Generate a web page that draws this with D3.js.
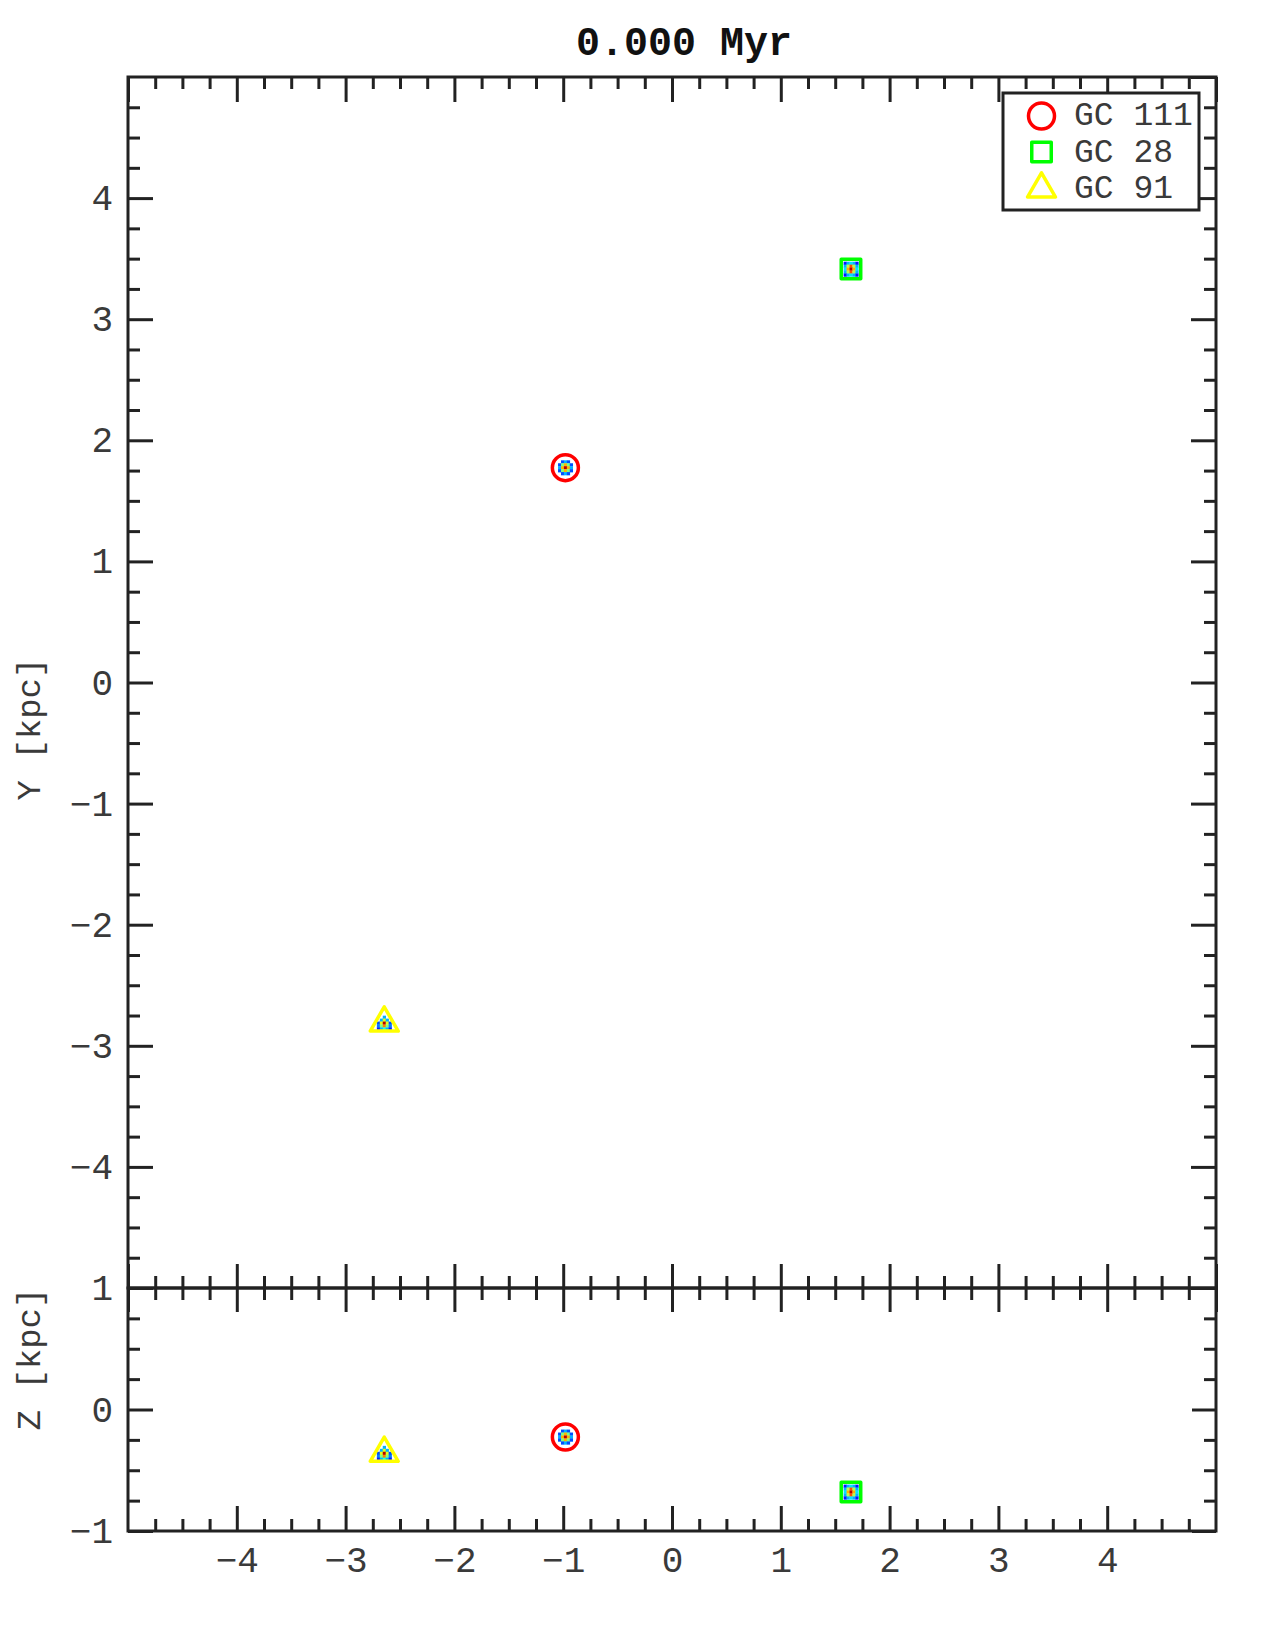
<!DOCTYPE html>
<html>
<head>
<meta charset="utf-8">
<script src="https://cdn.jsdelivr.net/npm/d3@7"></script>
<style>
  body { margin: 0; background: #fff; }
  svg { display: block; }
</style>
</head>
<body>
<script>
// cluster positions (kpc)
const clusters = ["GC 111", "GC 28", "GC 91"];
const xPos = [-0.98, 1.645, -2.645];
const yPos = [1.774, 3.414, -2.812];
const zPos = [-0.226, -0.679, -0.36];

// small density maps around each cluster (5x5, normalised)
const densGC111 = [
  [0, 0.2, 0.3, 0.2, 0],
  [0.2, 0.5, 0.7, 0.5, 0.2],
  [0.3, 0.7, 0.95, 0.7, 0.3],
  [0.2, 0.5, 0.7, 0.5, 0.2],
  [0, 0.2, 0.3, 0.2, 0]
];
const densGC28 = [
  [0.15, 0.3, 0.35, 0.3, 0.15],
  [0.3, 0.55, 0.8, 0.55, 0.3],
  [0.35, 0.7, 0.95, 0.7, 0.35],
  [0.3, 0.55, 0.8, 0.55, 0.3],
  [0.15, 0.3, 0.35, 0.3, 0.15]
];
const densGC91 = [
  [0, 0, 0.3, 0, 0],
  [0, 0.3, 0.6, 0.3, 0],
  [0.2, 0.6, 0.95, 0.6, 0.2],
  [0.25, 0.5, 0.75, 0.5, 0.25],
  [0.15, 0.3, 0.4, 0.3, 0.15]
];
const densities = [densGC111, densGC28, densGC91];

// tick labels
const xLabels = [-4, -3, -2, -1, 0, 1, 2, 3, 4];
const yLabels = [-4, -3, -2, -1, 0, 1, 2, 3, 4];
const zLabels = [-1, 0, 1];

const title = "0.000 Myr";

// styles
const markerColors = ["#ff0000", "#00ff00", "#ffff00"];
const markerShapes = ["circle", "square", "triangle"];
const ink = "#222";
const textInk = "#3a3a3a";
const cellKpc = 0.027;

const w = 1280, h = 1638;
const x0 = 128, x1 = 1216, yTop = 77, yMid = 1288, yBot = 1531;

const svg = d3.select("body").append("svg").attr("width", w).attr("height", h);

const x = d3.scaleLinear().domain([-5, 5]).range([x0, x1]);
const y = d3.scaleLinear().domain([-5, 5]).range([yMid, yTop]);
const z = d3.scaleLinear().domain([-1, 1]).range([yBot, yMid]);

const jet = d3.scaleLinear()
  .domain([0, 0.125, 0.375, 0.625, 0.875, 1])
  .range(["#00007f", "#0000ff", "#00ffff", "#ffff00", "#ff0000", "#7f0000"]);

const minors = (a, b) => d3.range(a * 4, b * 4 + 1).map((d) => d / 4).filter((d) => d % 1 !== 0);
const majors = (a, b) => d3.range(a, b + 1);
const fmt = (d) => (d < 0 ? "\u2212" + Math.abs(d) : String(d));

function drawAxis(axis, pos) {
  const g = svg.append("g").attr("transform", pos).call(axis);
  g.select(".domain").remove();
  g.selectAll("line").attr("stroke", ink).attr("stroke-width", 3);
  g.selectAll("text")
    .attr("font-family", "'Liberation Mono', monospace")
    .attr("font-size", 36)
    .attr("fill", textInk);
  return g;
}

// ----- upper panel (x-y) -----
drawAxis(d3.axisBottom(x).tickValues(majors(-5, 5)).tickSize(25).tickFormat(""), `translate(0,${yTop})`);
drawAxis(d3.axisBottom(x).tickValues(minors(-5, 5)).tickSize(12).tickFormat(""), `translate(0,${yTop})`);
drawAxis(d3.axisTop(x).tickValues(majors(-5, 5)).tickSize(24).tickFormat(""), `translate(0,${yMid})`);
drawAxis(d3.axisTop(x).tickValues(minors(-5, 5)).tickSize(12).tickFormat(""), `translate(0,${yMid})`);
drawAxis(d3.axisLeft(y).tickValues(yLabels).tickSize(-25).tickPadding(15).tickFormat(fmt), `translate(${x0},0)`);
drawAxis(d3.axisLeft(y).tickValues(minors(-5, 5)).tickSize(-12).tickFormat(""), `translate(${x0},0)`);
drawAxis(d3.axisRight(y).tickValues(majors(-5, 5)).tickSize(-25).tickFormat(""), `translate(${x1},0)`);
drawAxis(d3.axisRight(y).tickValues(minors(-5, 5)).tickSize(-12).tickFormat(""), `translate(${x1},0)`);

// ----- lower panel (x-z) -----
drawAxis(d3.axisBottom(x).tickValues(majors(-5, 5)).tickSize(24).tickFormat(""), `translate(0,${yMid})`);
drawAxis(d3.axisBottom(x).tickValues(minors(-5, 5)).tickSize(12).tickFormat(""), `translate(0,${yMid})`);
drawAxis(d3.axisBottom(x).tickValues(xLabels).tickSize(-25).tickPadding(15).tickFormat(fmt), `translate(0,${yBot})`);
drawAxis(d3.axisBottom(x).tickValues(minors(-5, 5)).tickSize(-12).tickFormat(""), `translate(0,${yBot})`);
drawAxis(d3.axisLeft(z).tickValues(zLabels).tickSize(-25).tickPadding(15).tickFormat(fmt), `translate(${x0},0)`);
drawAxis(d3.axisLeft(z).tickValues(minors(-1, 1)).tickSize(-12).tickFormat(""), `translate(${x0},0)`);
drawAxis(d3.axisRight(z).tickValues(zLabels).tickSize(-24).tickFormat(""), `translate(${x1},0)`);
drawAxis(d3.axisRight(z).tickValues(minors(-1, 1)).tickSize(-12).tickFormat(""), `translate(${x1},0)`);

// frames
svg.append("rect").attr("x", x0).attr("y", yTop).attr("width", x1 - x0).attr("height", yMid - yTop)
  .attr("fill", "none").attr("stroke", ink).attr("stroke-width", 3);
svg.append("rect").attr("x", x0).attr("y", yMid).attr("width", x1 - x0).attr("height", yBot - yMid)
  .attr("fill", "none").attr("stroke", ink).attr("stroke-width", 3);

// markers
function markerPath(shape) {
  if (shape === "circle") return d3.symbol().type(d3.symbolCircle).size(Math.PI * 13 * 13)();
  if (shape === "square") return "M-9.75,-9.75H9.75V9.75H-9.75Z";
  const s = 28, hh = s * Math.sqrt(3) / 2;
  return `M0,${-hh * 2 / 3}L${s / 2},${hh / 3}L${-s / 2},${hh / 3}Z`;
}

function drawCluster(i, vScale, vVal) {
  const cx = x(xPos[i]), cy = vScale(vVal);
  const dens = densities[i];
  const cw = Math.abs(x(cellKpc) - x(0));
  const ch = Math.abs(vScale(cellKpc) - vScale(0)) * 0.9;
  const cells = [];
  dens.forEach((row, r) => row.forEach((v, c) => { if (v > 0) cells.push({ r, c, v }); }));
  svg.append("g").selectAll("rect").data(cells).enter().append("rect")
    .attr("x", (d) => x(xPos[i] + (d.c - 2.5) * cellKpc))
    .attr("y", (d) => cy + (d.r - 2.5) * ch)
    .attr("width", cw + 0.3)
    .attr("height", ch + 0.3)
    .attr("fill", (d) => jet(d.v));
  svg.append("path")
    .attr("d", markerPath(markerShapes[i]))
    .attr("transform", `translate(${cx},${cy})`)
    .attr("fill", "none")
    .attr("stroke", markerColors[i])
    .attr("stroke-width", 3.5)
    .attr("stroke-linejoin", "round");
}

clusters.forEach((c, i) => {
  drawCluster(i, y, yPos[i]);
  drawCluster(i, z, zPos[i]);
});

// legend
const legend = svg.append("g");
legend.append("rect").attr("x", 1003).attr("y", 93).attr("width", 196).attr("height", 117)
  .attr("fill", "#fff").attr("stroke", ink).attr("stroke-width", 3);
const legendRows = [116, 152, 189];
const legendBase = [125, 161.7, 197.7];
clusters.forEach((c, i) => {
  legend.append("path")
    .attr("d", markerPath(markerShapes[i]))
    .attr("transform", `translate(1041.5,${legendRows[i]})`)
    .attr("fill", "none")
    .attr("stroke", markerColors[i])
    .attr("stroke-width", 3.5)
    .attr("stroke-linejoin", "round");
  legend.append("text")
    .attr("x", 1074).attr("y", legendBase[i])
    .attr("font-family", "'Liberation Mono', monospace")
    .attr("font-size", 33)
    .attr("fill", textInk)
    .text(c);
});

// title
svg.append("text")
  .attr("x", 684).attr("y", 55)
  .attr("text-anchor", "middle")
  .attr("font-family", "'Liberation Mono', monospace")
  .attr("font-weight", "bold")
  .attr("font-size", 40)
  .attr("fill", "#111")
  .text(title);

// axis titles
[["Y [kpc]", 729], ["Z [kpc]", 1359]].forEach(([t, cy]) => {
  svg.append("text")
    .attr("transform", `translate(40,${cy}) rotate(-90)`)
    .attr("text-anchor", "middle")
    .attr("font-family", "'Liberation Mono', monospace")
    .attr("font-size", 34)
    .attr("fill", textInk)
    .text(t);
});
</script>
</body>
</html>
